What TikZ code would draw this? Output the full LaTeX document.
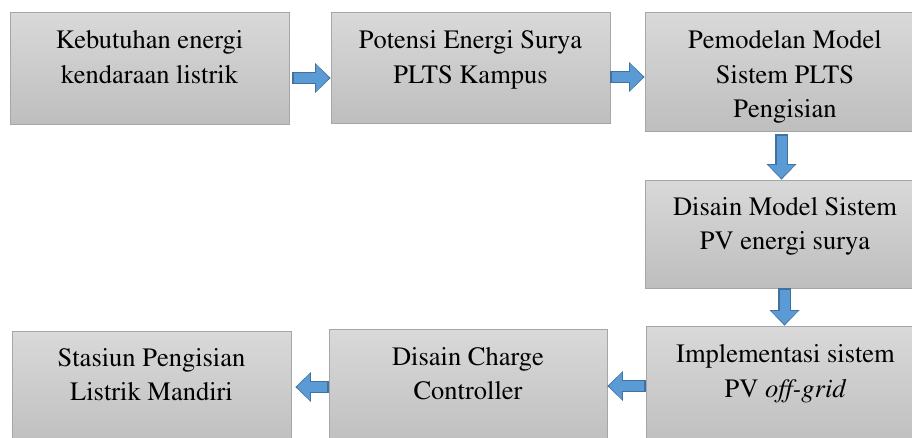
\documentclass[tikz,border=0pt]{standalone}
\usepackage[T1]{fontenc}
\usepackage{mathptmx}
\usetikzlibrary{positioning, arrows.meta, calc}
\definecolor{boxtop}{HTML}{D9D9D9}
\definecolor{boxbot}{HTML}{BEBEBE}
\definecolor{boxline}{HTML}{A6A6A6}
\definecolor{arrfill}{HTML}{5B9BD5}
\definecolor{arrline}{HTML}{41719C}
\tikzset{
  box/.style={draw=boxline, line width=0.8pt, top color=boxtop, bottom color=boxbot, minimum width=279pt, inner sep=0pt},
  lbl/.style={font=\fontsize{26.5}{34.5}\selectfont, align=center, inner sep=0pt},
  flow/.style={draw=arrline, line width=12.5pt, -{Triangle[width=29pt,length=15.5pt]},
    postaction={draw=arrfill, line width=10pt, shorten <=1.2pt, shorten >=1.4pt, -{Triangle[width=25.5pt,length=13pt]}}}}

\begin{document}
\begin{tikzpicture}[x=1pt, y=-1pt]
\useasboundingbox (0,0) rectangle (912,437);
\clip (0,0) rectangle (912,437);
% boxes
\node[box, minimum height=112pt] (b1) at (149.5,68) {};
\node[box, minimum height=111pt] (b2) at (470.5,67.5) {};
\node[box, minimum height=119pt, minimum width=280pt] (b3) at (785,71.5) {};
\node[box, minimum height=108pt, minimum width=280pt] (b4) at (785,234) {};
\node[box, minimum height=124pt] (b5) at (785.5,388) {};
\node[box, minimum height=121pt, minimum width=278pt] (b6) at (468,389.5) {};
\node[box, minimum height=119pt] (b7) at (151.5,390.5) {};
% texts
\node[lbl, below=19pt of b1.north] (t1) {Kebutuhan energi\\kendaraan listrik};
\node[lbl, below=19pt of b2.north] (t2) {Potensi Energi Surya\\PLTS Kampus};
\node[lbl, below=19pt of b3.north] (t3) {Pemodelan Model\\Sistem PLTS\\Pengisian};
\node[lbl, below=17.5pt of b4.north] (t4) {Disain Model Sistem\\PV energi surya};
\node[lbl, below=19pt of b5.north] (t5) {Implementasi sistem\\PV \textit{off-grid}};
\node[lbl, below=18.5pt of b6.north] (t6) {Disain Charge\\Controller};
\node[lbl, below=17.5pt of b7.north] (t7) {Stasiun Pengisian\\Listrik Mandiri};
% arrows
\draw[flow] ($(b1.east)+(3,10)$) coordinate (s1) -- (b2.west |- s1);
\draw[flow] ($(b2.east)+(0,9.5)$) coordinate (s2) -- (b3.west |- s2);
\draw[flow] ($(b3.south)+(-3.5,3)$) coordinate (s3) -- (s3 |- b4.north);
\draw[flow] ($(b4.south)+(-0.5,0)$) coordinate (s4) -- (s4 |- b5.north);
\draw[flow] ($(b5.west)+(0,-2)$) coordinate (s5) -- (b6.east |- s5);
\draw[flow] ($(b6.west)+(0,-2.5)$) coordinate (s6) -- ($(b7.east |- s6)+(4,0)$);
\end{tikzpicture}
\end{document}
